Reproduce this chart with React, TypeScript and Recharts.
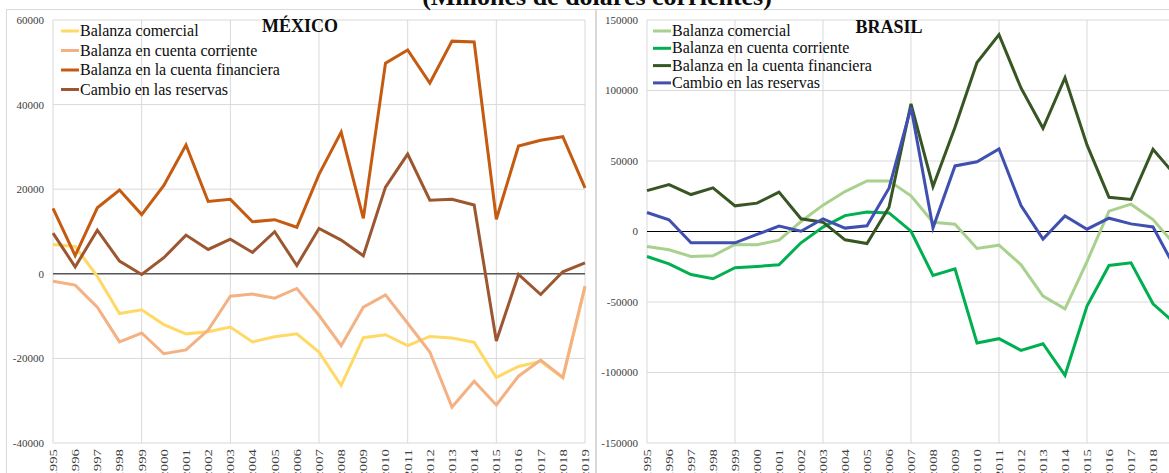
import React from "react";
import { LineChart, Line, XAxis, YAxis, CartesianGrid, ReferenceLine } from "recharts";

const FONT = '"Liberation Serif", "Times New Roman", serif';

const years = [
  1995, 1996, 1997, 1998, 1999, 2000, 2001, 2002, 2003, 2004, 2005, 2006, 2007,
  2008, 2009, 2010, 2011, 2012, 2013, 2014, 2015, 2016, 2017, 2018, 2019,
];
const gridYears = [1995, 1999, 2003, 2007, 2011, 2015, 2019];

// México (millones de dólares)
const mxComercial = [
  6940, 6470, -620, -9400, -8500, -12000, -14200, -13700, -12600, -16100, -14900,
  -14200, -18500, -26400, -15100, -14400, -17000, -14800, -15200, -16200, -24500,
  -21900, -20700, -24600, -3200,
];
const mxCorriente = [
  -1740, -2680, -7900, -16100, -14000, -18900, -18000, -13300, -5300, -4800, -5760,
  -3470, -9800, -17000, -7900, -4970, -11700, -18500, -31500, -25400, -31000,
  -24200, -20400, -24500, -2900,
];
const mxFinanciera = [
  15460, 4300, 15600, 19800, 14000, 20900, 30450, 17100, 17600, 12300, 12800, 11000,
  23500, 33500, 13100, 49800, 52900, 45100, 55000, 54800, 12900, 30200, 31550,
  32400, 20300,
];
const mxReservas = [
  9600, 1650, 10300, 3000, -160, 3800, 9150, 5750, 8200, 5050, 9950, 1970, 10700,
  7970, 4260, 20500, 28300, 17400, 17600, 16250, -15900, -160, -4900, 470, 2600,
];

// Brasil (millones de dólares)
const brComercial = [
  -10600, -13000, -17700, -17200, -9200, -9400, -6100, 7100, 18700, 28300, 35900,
  35900, 25300, 6600, 5200, -12000, -9700, -23600, -45800, -54800, -21300, 14400,
  19400, 8500, -9500,
];
const brCorriente = [
  -17700, -22900, -30500, -33500, -25700, -24800, -23600, -8000, 3100, 11300, 13900,
  13200, 200, -31200, -26500, -79100, -76000, -84300, -79600, -102000, -52900,
  -24100, -22200, -51300, -65000,
];
const brFinanciera = [
  29000, 33300, 26200, 30900, 18200, 20100, 27900, 9000, 6600, -5900, -8500, 17200,
  90500, 31900, 73900, 119800, 139600, 101800, 73200, 109100, 61400, 24300, 22700,
  58300, 40000,
];
const brReservas = [
  13500, 8300, -8000, -8000, -8000, -2100, 3800, 200, 9000, 2400, 4000, 30700, 88100,
  2600, 46500, 49400, 58600, 18400, -5400, 11100, 1650, 9450, 5400, 3200, -25700,
];

const seriesNames = [
  "Balanza comercial",
  "Balanza en cuenta corriente",
  "Balanza en la cuenta financiera",
  "Cambio en las reservas",
];

const mxTicks = [-40000, -20000, 0, 20000, 40000, 60000];
const brTicks = [-150000, -100000, -50000, 0, 50000, 100000, 150000];

const mxColors = ["#FFD966", "#F4B183", "#C55A11", "#9C5730"];
const brColors = ["#A9D18E", "#00B050", "#375623", "#4050B0"];

const toRows = (cols: number[][]) =>
  years.map((year, i) => ({ year, s0: cols[0][i], s1: cols[1][i], s2: cols[2][i], s3: cols[3][i] }));

const mxData = toRows([mxComercial, mxCorriente, mxFinanciera, mxReservas]);
const brData = toRows([brComercial, brCorriente, brFinanciera, brReservas]);

// rotated year labels, slightly stretched along the reading direction
const YearTick = (props: any) => {
  const { x, y, payload } = props;
  return (
    <text
      transform={`translate(${x} ${y}) rotate(-90) scale(1.35 1)`}
      textAnchor="end"
      dy="0.35em"
      fontSize={11}
      fontFamily={FONT}
      fill="#404040"
    >
      {payload.value}
    </text>
  );
};

type PanelProps = {
  left: number;
  width: number;
  yWidth: number;
  data: any[];
  ticks: number[];
  colors: string[];
  zeroStroke: string;
  zeroWidth: number;
};

function Panel({ left, width, yWidth, data, ticks, colors, zeroStroke, zeroWidth }: PanelProps) {
  return (
    <div style={{ position: "absolute", left, top: 0, fontFamily: FONT }}>
      <LineChart
        width={width}
        height={520}
        data={data}
        style={{ fontFamily: FONT }}
        margin={{ top: 20, right: 8, left: 0, bottom: 27 }}
      >
        <CartesianGrid vertical={false} stroke="#D9D9D9" />
        {gridYears.map((yr) => (
          <ReferenceLine key={yr} x={yr} stroke="#D9D9D9" />
        ))}
        <XAxis
          dataKey="year"
          type="number"
          domain={[1995, 2019]}
          ticks={years}
          interval={0}
          height={50}
          tickSize={0}
          tickMargin={6}
          tickLine={false}
          axisLine={false}
          tick={<YearTick />}
        />
        <YAxis
          type="number"
          width={yWidth}
          domain={[ticks[0], ticks[ticks.length - 1]]}
          ticks={ticks}
          interval={0}
          tickLine={false}
          axisLine={false}
          tickMargin={3}
          tick={{ fontSize: 11, fontFamily: FONT, fill: "#404040" }}
        />
        <ReferenceLine y={0} stroke={zeroStroke} strokeWidth={zeroWidth} />
        {["s0", "s1", "s2", "s3"].map((k, i) => (
          <Line
            key={k}
            dataKey={k}
            name={seriesNames[i]}
            type="linear"
            stroke={colors[i]}
            strokeWidth={3}
            dot={false}
            activeDot={false}
            isAnimationActive={false}
          />
        ))}
      </LineChart>
    </div>
  );
}

function LegendBlock({ x, y0, step, colors }: { x: number; y0: number; step: number; colors: string[] }) {
  return (
    <g>
      {seriesNames.map((name, i) => {
        const y = y0 + i * step;
        return (
          <g key={name}>
            <line x1={x} x2={x + 18} y1={y} y2={y} stroke={colors[i]} strokeWidth={3} />
            <text x={x + 19} y={y + 5} fontSize={16} fontFamily={FONT} fill="#0D0D0D">
              {name}
            </text>
          </g>
        );
      })}
    </g>
  );
}

export default function App() {
  return (
    <div
      style={{
        position: "absolute",
        left: 0,
        top: 0,
        width: 1169,
        height: 473,
        overflow: "hidden",
        background: "#fff",
        fontFamily: FONT,
      }}
    >
      <div style={{ position: "absolute", left: 6, top: 9, width: 589, height: 520, border: "1px solid #D9D9D9" }} />
      <div style={{ position: "absolute", left: 595, top: 9, width: 620, height: 520, border: "1px solid #D9D9D9" }} />
      <Panel
        left={0}
        width={593}
        yWidth={53}
        data={mxData}
        ticks={mxTicks}
        colors={mxColors}
        zeroStroke="#595959"
        zeroWidth={1.5}
      />
      <Panel
        left={595}
        width={588}
        yWidth={52}
        data={brData}
        ticks={brTicks}
        colors={brColors}
        zeroStroke="#000000"
        zeroWidth={1}
      />
      <svg
        width={1169}
        height={473}
        style={{ position: "absolute", left: 0, top: 0, pointerEvents: "none" }}
      >
        <text x={597} y={5} textAnchor="middle" fontSize={26} fontWeight="bold" fontFamily={FONT} fill="#0D0D0D">
          (Millones de dólares corrientes)
        </text>
        <text x={300} y={32} textAnchor="middle" fontSize={18} fontWeight="bold" fontFamily={FONT} fill="#0D0D0D">
          MÉXICO
        </text>
        <text x={889} y={33} textAnchor="middle" fontSize={18} fontWeight="bold" fontFamily={FONT} fill="#0D0D0D">
          BRASIL
        </text>
        <LegendBlock x={61} y0={31} step={19.5} colors={mxColors} />
        <LegendBlock x={653} y0={31} step={17.3} colors={brColors} />
      </svg>
    </div>
  );
}
